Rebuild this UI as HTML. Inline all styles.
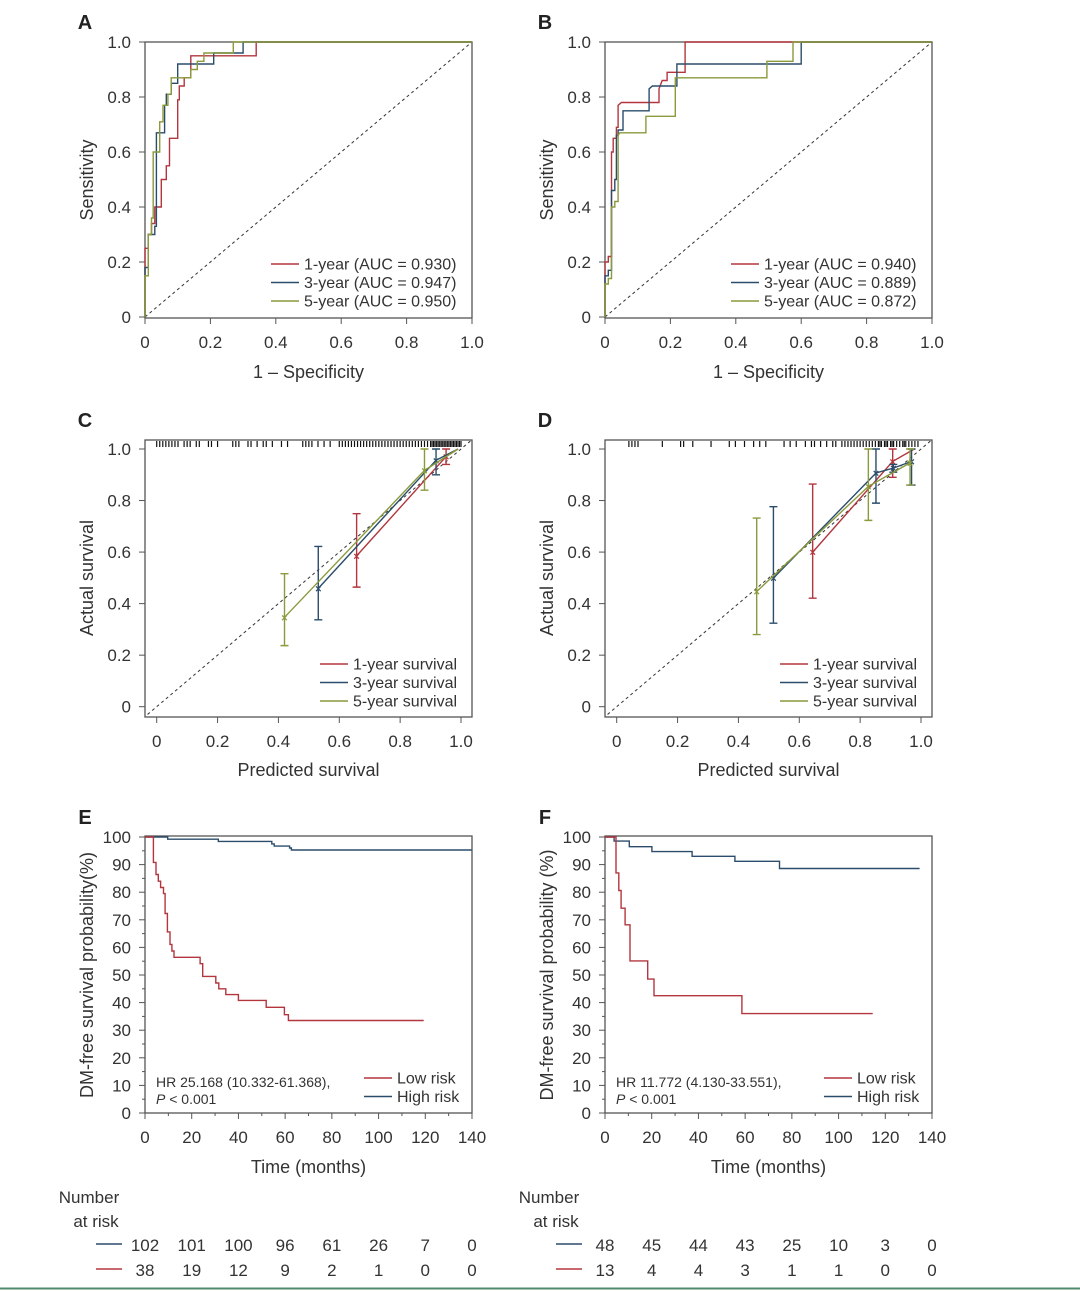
<!DOCTYPE html>
<html><head><meta charset="utf-8"><style>
body{margin:0;background:#fff;}
svg{display:block;font-family:"Liberation Sans",Arial,sans-serif;}
</style></head><body>
<svg id="fig" width="1080" height="1291" viewBox="0 0 1080 1291"></svg>
<script>
// ---------- data ----------
const rocTicks = [0,0.2,0.4,0.6,0.8,1.0];
const rocTickLabels = ["0","0.2","0.4","0.6","0.8","1.0"];
const rocSeriesNames = ["1-year","3-year","5-year"];
const rocAucA = ["0.930","0.947","0.950"];
const rocAucB = ["0.940","0.889","0.872"];
const rocA1yFpr = [0,0,0.01,0.01,0.02,0.02,0.03,0.03,0.05,0.05,0.065,0.065,0.075,0.075,0.1,0.1,0.105,0.105,0.12,0.12,0.14,0.14,0.34,0.34,1];
const rocA1yTpr = [0,0.25,0.25,0.3,0.3,0.34,0.34,0.4,0.4,0.5,0.5,0.55,0.55,0.65,0.65,0.79,0.79,0.84,0.84,0.87,0.87,0.95,0.95,1,1];
const rocA3yFpr = [0,0,0.01,0.01,0.03,0.03,0.035,0.035,0.06,0.06,0.065,0.065,0.08,0.08,0.1,0.1,0.21,0.21,0.3,0.3,1];
const rocA3yTpr = [0,0.18,0.18,0.3,0.3,0.33,0.33,0.67,0.67,0.77,0.77,0.81,0.81,0.85,0.85,0.92,0.92,0.96,0.96,1,1];
const rocA5yFpr = [0,0,0.01,0.01,0.02,0.02,0.025,0.025,0.045,0.045,0.055,0.055,0.07,0.07,0.08,0.08,0.14,0.14,0.16,0.16,0.18,0.18,0.27,0.27,1];
const rocA5yTpr = [0,0.15,0.15,0.3,0.3,0.36,0.36,0.6,0.6,0.71,0.71,0.77,0.77,0.81,0.81,0.87,0.87,0.9,0.9,0.93,0.93,0.96,0.96,1,1];
const rocB1yFpr = [0,0,0.01,0.01,0.02,0.02,0.025,0.025,0.035,0.035,0.04,0.04,0.05,0.165,0.165,0.175,0.19,0.19,0.245,0.245,1];
const rocB1yTpr = [0,0.2,0.2,0.22,0.22,0.6,0.6,0.65,0.65,0.69,0.69,0.77,0.78,0.78,0.83,0.86,0.86,0.89,0.89,1,1];
const rocB3yFpr = [0,0,0.01,0.01,0.02,0.02,0.03,0.03,0.035,0.035,0.04,0.04,0.055,0.055,0.135,0.135,0.145,0.22,0.22,0.6,0.6,1];
const rocB3yTpr = [0,0.15,0.15,0.17,0.17,0.46,0.46,0.5,0.5,0.66,0.66,0.68,0.68,0.75,0.75,0.83,0.84,0.84,0.92,0.92,1,1];
const rocB5yFpr = [0,0,0.01,0.01,0.02,0.02,0.03,0.03,0.04,0.04,0.045,0.125,0.125,0.215,0.215,0.495,0.495,0.575,0.575,1];
const rocB5yTpr = [0,0.12,0.12,0.14,0.14,0.4,0.4,0.42,0.42,0.66,0.67,0.67,0.73,0.73,0.87,0.87,0.93,0.93,1,1];

const calTicks = [0,0.2,0.4,0.6,0.8,1.0];
const calTickLabels = ["0","0.2","0.4","0.6","0.8","1.0"];
const calNames = ["1-year survival","3-year survival","5-year survival"];
const calC1Pred = [0.657,0.951,0.99]; const calC1Obs=[0.585,0.971,1.0]; const calC1Lo=[0.464,0.94,0.99]; const calC1Hi=[0.749,1.0,1.0];
const calC3Pred = [0.531,0.918,0.99]; const calC3Obs=[0.459,0.956,1.0]; const calC3Lo=[0.337,0.90,0.99]; const calC3Hi=[0.622,1.0,1.0];
const calC5Pred = [0.42,0.88,0.99]; const calC5Obs=[0.347,0.917,1.0]; const calC5Lo=[0.237,0.84,0.99]; const calC5Hi=[0.516,1.0,1.0];
const calD1Pred = [0.644,0.907,0.978]; const calD1Obs=[0.60,0.952,1.0]; const calD1Lo=[0.421,0.89,1.0]; const calD1Hi=[0.864,1.0,1.0];
const calD3Pred = [0.515,0.852,0.909,0.969]; const calD3Obs=[0.499,0.907,0.926,0.952]; const calD3Lo=[0.324,0.79,0.91,0.86]; const calD3Hi=[0.776,1.0,0.94,1.0];
const calD5Pred = [0.46,0.827,0.964]; const calD5Obs=[0.447,0.855,0.946]; const calD5Lo=[0.28,0.723,0.86]; const calD5Hi=[0.732,1.0,1.0];
const rugC = [0.0,0.01,0.02,0.03,0.04,0.05,0.06,0.07,0.09,0.1,0.11,0.13,0.14,0.17,0.18,0.2,0.25,0.26,0.27,0.3,0.31,0.33,0.35,0.36,0.38,0.41,0.43,0.48,0.49,0.5,0.51,0.53,0.55,0.57,0.6,0.61,0.62,0.63,0.64,0.65,0.66,0.67,0.68,0.69,0.7,0.71,0.72,0.73,0.74,0.75,0.76,0.77,0.78,0.79,0.8,0.81,0.82,0.83,0.84,0.85,0.86,0.87,0.88,0.89,0.9,0.905,0.91,0.915,0.92,0.925,0.93,0.935,0.94,0.945,0.95,0.955,0.96,0.965,0.97,0.975,0.98,0.985,0.99,0.995,1.0];
const rugD = [0.04,0.05,0.06,0.07,0.15,0.21,0.22,0.25,0.31,0.37,0.39,0.42,0.45,0.47,0.49,0.55,0.57,0.59,0.62,0.64,0.65,0.67,0.69,0.71,0.72,0.74,0.75,0.76,0.77,0.78,0.79,0.8,0.81,0.82,0.83,0.84,0.85,0.86,0.865,0.87,0.88,0.885,0.89,0.9,0.905,0.91,0.92,0.93,0.94,0.945,0.95,0.96,0.97,0.98,0.99];

const kmXTicks = [0,20,40,60,80,100,120,140];
const kmYTicks = [0,10,20,30,40,50,60,70,80,90,100];
const kmELowT = [0,3.6,4.7,5.7,6.7,7.9,8.6,9.6,10.7,11.5,12.4,23.6,24.7,30.3,31.6,34.6,40,51.9,59.7,61.4,119.3];
const kmELowS = [100,90.8,86.4,84,81.7,79.5,72.3,65.6,61.1,58.7,56.4,54.1,49.5,47.1,45,42.9,40.8,38.3,35.6,33.5,33.5];
const kmEHighT = [0,9.7,31.4,54.3,55.3,61.9,62.7,140];
const kmEHighS = [100,99.2,98.4,97.5,96.7,96,95.3,95.3];
const kmFLowT = [0,4.7,5.9,6.9,8.6,10.7,18.3,21,58.6,114.6];
const kmFLowS = [100,87,80.6,74.2,68.2,55.1,48.5,42.5,36,36];
const kmFHighT = [0,3.9,10.4,20.1,37.3,55.6,74.7,134.7];
const kmFHighS = [100,98.5,96.5,94.7,93,91.2,88.6,88.6];
const riskEHigh = ["102","101","100","96","61","26","7","0"];
const riskELow = ["38","19","12","9","2","1","0","0"];
const riskFHigh = ["48","45","44","43","25","10","3","0"];
const riskFLow = ["13","4","4","3","1","1","0","0"];

// ---------- drawing ----------
const NS="http://www.w3.org/2000/svg";
const svg=document.getElementById('fig');
const RED="#b3363e",BLUE="#2b4d6b",GREEN="#8a9a3c",AX="#555",TXT="#333";
function mk(tag,attrs,parent){const e=document.createElementNS(NS,tag);for(const k in attrs)e.setAttribute(k,attrs[k]);(parent||svg).appendChild(e);return e;}
function txt(s,x,y,size,anchor,parent,extra){const t=mk('text',Object.assign({x:x,y:y,'font-size':size,'text-anchor':anchor||'middle',fill:TXT},extra||{}),parent);t.textContent=s;return t;}

function panelLetter(s,x,y){const t=txt(s,x,y,20,'middle',null,{'font-weight':'bold',fill:'#222'});

}

function box(g,x0,y0,x1,y1){const r=mk('rect',{x:x0,y:y0,width:x1-x0,height:y1-y0,fill:'none',stroke:AX,'stroke-width':1.3},g);

}

function stepPath(xs,ys,sx,sy,color,g,name){let d='';for(let i=0;i<xs.length;i++){d+=(i?'L':'M')+sx(xs[i]).toFixed(1)+','+sy(ys[i]).toFixed(1);}
const p=mk('path',{d:d,fill:'none',stroke:color,'stroke-width':1.4},g);

return p;}

function kmPath(ts,ss,sx,sy,color,g,name){let d='M'+sx(ts[0]).toFixed(1)+','+sy(ss[0]).toFixed(1);
for(let i=1;i<ts.length;i++){d+='L'+sx(ts[i]).toFixed(1)+','+sy(ss[i-1]).toFixed(1)+'L'+sx(ts[i]).toFixed(1)+','+sy(ss[i]).toFixed(1);}
const p=mk('path',{d:d,fill:'none',stroke:color,'stroke-width':1.4},g);

}

function legend(g,xLine,yTop,labels,colors,size,gap){labels.forEach((l,i)=>{const y=yTop+i*gap;
const ln=mk('line',{x1:xLine,x2:xLine+28,y1:y,y2:y,stroke:colors[i],'stroke-width':1.4},g);


const t=txt(l,xLine+33,y+5.5,size,'start',g);

});}

function rocPanel(ox,letter,series,aucs){
  const g=mk('g',{});
  
  
  const x0=145+ox,x1=472+ox,y0=42,y1=318;
  const sx=v=>x0+v*(x1-x0), sy=v=>317-v*(317-42);
  box(g,x0,y0,x1,y1);
  const dg=mk('line',{x1:sx(0),y1:sy(0),x2:sx(1),y2:sy(1),stroke:'#333','stroke-width':1,'stroke-dasharray':'3,3'},g);
  
  
  rocTicks.forEach((v,i)=>{
    mk('line',{x1:sx(v),x2:sx(v),y1:y1,y2:y1+6,stroke:AX},g);
    const tx=txt(rocTickLabels[i],sx(v),y1+30,17,'middle',g);
    
    
    mk('line',{x1:x0-6,x2:x0,y1:sy(v),y2:sy(v),stroke:AX},g);
    const ty=txt(rocTickLabels[i],x0-14,sy(v)+6,17,'end',g);
    
    
  });
  const xt=txt('1 – Specificity',(x0+x1)/2,378,18,'middle',g);
  
  
  const yt=txt('Sensitivity',0,0,18,'middle',g,{transform:'translate('+(93+ox)+',180) rotate(-90)'});
  
  
  const cols=[RED,BLUE,GREEN];
  series.forEach((s,i)=>stepPath(s[0],s[1],sx,sy,cols[i],g,'roc-curve-'+rocSeriesNames[i]));
  legend(g,271+ox,264,rocSeriesNames.map((n,i)=>n+' (AUC = '+aucs[i]+')'),cols,16,18.5);
  panelLetter(letter,85+ox,29);
}

function calPanel(ox,letter,series,rug){
  const g=mk('g',{});
  
  
  const x0=145+ox,x1=472+ox,y0=440,y1=717;
  const sx=v=>156.7+ox+v*(461-156.7), sy=v=>706.7-v*(706.7-449);
  box(g,x0,y0,x1,y1);
  const dg=mk('line',{x1:sx(-0.03),y1:sy(-0.03),x2:sx(1.035),y2:sy(1.035),stroke:'#333','stroke-width':1,'stroke-dasharray':'3,3'},g);
  
  
  rug.forEach(v=>{const l=mk('line',{x1:sx(v),x2:sx(v),y1:441,y2:447,stroke:'#111','stroke-width':1.2},g);
    
    });
  calTicks.forEach((v,i)=>{
    mk('line',{x1:sx(v),x2:sx(v),y1:y1,y2:y1+6,stroke:AX},g);
    const tx=txt(calTickLabels[i],sx(v),y1+30,17,'middle',g);
    
    
    mk('line',{x1:x0-6,x2:x0,y1:sy(v),y2:sy(v),stroke:AX},g);
    const ty=txt(calTickLabels[i],x0-14,sy(v)+6,17,'end',g);
    
    
  });
  const xt=txt('Predicted survival',(x0+x1)/2,776,18,'middle',g);
  
  
  const yt=txt('Actual survival',0,0,18,'middle',g,{transform:'translate('+(93+ox)+',578) rotate(-90)'});
  
  
  const cols=[RED,BLUE,GREEN];
  series.forEach((s,i)=>{
    const [pr,ob,lo,hi]=s;
    stepPath(pr,ob,sx,sy,cols[i],g,'calibration-line-'+(i+1));
    pr.forEach((p,j)=>{
      if(hi[j]-lo[j]<0.02) return;
      const e=mk('path',{d:'M'+sx(p)+','+sy(lo[j])+'L'+sx(p)+','+sy(hi[j])+'M'+(sx(p)-4)+','+sy(lo[j])+'L'+(sx(p)+4)+','+sy(lo[j])+'M'+(sx(p)-4)+','+sy(hi[j])+'L'+(sx(p)+4)+','+sy(hi[j]),stroke:cols[i],'stroke-width':1.4,fill:'none'},g);
      
      
      const m=mk('text',{x:sx(p),y:sy(ob[j])+4,'font-size':11,'text-anchor':'middle',fill:cols[i],'font-weight':'bold'},g);m.textContent='×';
      
      
    });
  });
  legend(g,320+ox,664,calNames,cols,16,18.5);
  panelLetter(letter,85+ox,427);
}

function kmPanel(ox,letter,low,high,hr,yTitle,riskHigh,riskLow){
  const g=mk('g',{});
  
  
  const x0=145+ox,x1=472+ox,y0=836,y1=1113;
  const sx=v=>x0+v/140*(x1-x0), sy=v=>1113-v/100*(1113-837);
  box(g,x0,y0,x1,y1);
  for(let v=0;v<=140;v+=10){mk('line',{x1:sx(v),x2:sx(v),y1:y1,y2:y1+(v%20?3:6),stroke:AX},g);}
  for(let v=0;v<=100;v+=5){mk('line',{x1:x0-(v%10?3:6),x2:x0,y1:sy(v),y2:sy(v),stroke:AX},g);}
  kmXTicks.forEach(v=>{const t=txt(String(v),sx(v),1143,17,'middle',g);
    
    });
  kmYTicks.forEach(v=>{const t=txt(String(v),x0-14,sy(v)+6,17,'end',g);
    
    });
  const xt=txt('Time (months)',(x0+x1)/2,1173,18,'middle',g);
  
  
  const yt=txt(yTitle,0,0,18,'middle',g,{transform:'translate('+(93+ox)+',975) rotate(-90)'});
  
  
  kmPath(high[0],high[1],sx,sy,BLUE,g,'high-risk-curve');
  kmPath(low[0],low[1],sx,sy,RED,g,'low-risk-curve');
  const h=txt(hr,156+ox,1087,14,'start',g);
  
  
  const p=mk('text',{x:156+ox,y:1104,'font-size':14,fill:TXT},g);
  p.innerHTML='<tspan font-style="italic">P</tspan> &lt; 0.001';
  
  
  legend(g,364+ox,1078,['Low risk','High risk'],[RED,BLUE],16,18.5);
  panelLetter(letter,85+ox,824);
  // risk table
  const n1=txt('Number',89+ox,1203,17,'middle',g);
  
  
  const n2=txt('at risk',96+ox,1227,17,'middle',g);
  
  
  const l1=mk('line',{x1:96+ox,x2:122+ox,y1:1244,y2:1244,stroke:BLUE,'stroke-width':1.4},g);
  
  
  const l2=mk('line',{x1:96+ox,x2:122+ox,y1:1269,y2:1269,stroke:RED,'stroke-width':1.4},g);
  
  
  kmXTicks.forEach((v,i)=>{
    const a=txt(riskHigh[i],sx(v),1251,17,'middle',g);
    
    
    const b=txt(riskLow[i],sx(v),1276,17,'middle',g);
    
    
  });
}

rocPanel(0,'A',[[rocA1yFpr,rocA1yTpr],[rocA3yFpr,rocA3yTpr],[rocA5yFpr,rocA5yTpr]],rocAucA);
rocPanel(460,'B',[[rocB1yFpr,rocB1yTpr],[rocB3yFpr,rocB3yTpr],[rocB5yFpr,rocB5yTpr]],rocAucB);
calPanel(0,'C',[[calC1Pred,calC1Obs,calC1Lo,calC1Hi],[calC3Pred,calC3Obs,calC3Lo,calC3Hi],[calC5Pred,calC5Obs,calC5Lo,calC5Hi]],rugC);
calPanel(460,'D',[[calD1Pred,calD1Obs,calD1Lo,calD1Hi],[calD3Pred,calD3Obs,calD3Lo,calD3Hi],[calD5Pred,calD5Obs,calD5Lo,calD5Hi]],rugD);
kmPanel(0,'E',[kmELowT,kmELowS],[kmEHighT,kmEHighS],'HR 25.168 (10.332-61.368),','DM-free survival probability(%)',riskEHigh,riskELow);
kmPanel(460,'F',[kmFLowT,kmFLowS],[kmFHighT,kmFHighS],'HR 11.772 (4.130-33.551),','DM-free survival probability (%)',riskFHigh,riskFLow);
const bl=mk('line',{x1:0,x2:1080,y1:1288.5,y2:1288.5,stroke:'#4f8a6c','stroke-width':2});


</script>
</body></html>
